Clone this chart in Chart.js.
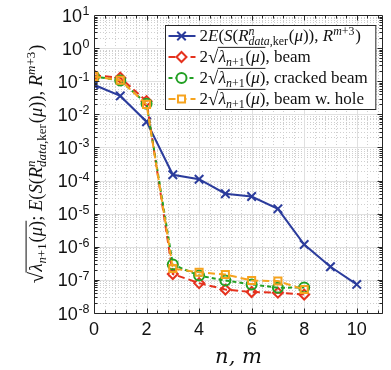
<!DOCTYPE html>
<html>
<head>
<meta charset="utf-8">
<script src="https://cdn.jsdelivr.net/npm/chart.js@4"></script>
<style>
  html, body { margin: 0; padding: 0; background: #fff; }
  #wrap { width: 391px; height: 370px; position: relative; }
</style>
</head>
<body>
<div id="wrap"><canvas id="grafico"></canvas></div>
<script>
// data
const nBlue = [0, 1, 2, 3, 4, 5, 6, 7, 8, 9, 10];
const errKer = [0.078, 0.036, 0.006, 1.5e-4, 1.1e-4, 4.0e-5, 3.3e-5, 1.4e-5, 1.17e-6, 2.5e-7, 7.3e-8];
const nEig = [0, 1, 2, 3, 4, 5, 6, 7, 8];
const eigBeam = [0.15, 0.128, 0.025, 1.5e-7, 8.0e-8, 5.1e-8, 4.3e-8, 4.1e-8, 3.6e-8];
const eigCracked = [0.14, 0.105, 0.021, 2.9e-7, 1.35e-7, 9.6e-8, 7.3e-8, 5.8e-8, 5.9e-8];
const eigHole = [0.14, 0.107, 0.020, 2.2e-7, 1.7e-7, 1.45e-7, 9.6e-8, 9.2e-8, 5.1e-8];
const yExpMin = -8, yExpMax = 1;
const xMax = 11;

const SERIF = '"Liberation Serif", "DejaVu Serif", serif';
const SANS = '"Liberation Sans", Arial, sans-serif';

// rich text pieces: I = italic, R = roman
const I = t => ({ t, it: true });
const R = t => ({ t });
const lam = [{ sqrt: [I('λ'), { sub: [I('n'), R('+1')] }, R('('), I('μ'), R(')')] }];
const errText = [I('E'), R('('), I('S'), R('('), I('R'), { sup: [I('n')], sub: [I('data'), R(','), R('ker')] },
  R('('), I('μ'), R(')), '), I('R'), { sup: [I('m'), R('+3')] }, R(')')];

const legendItems = [
  [R('2')].concat(errText),
  [R('2')].concat(lam, [R(', beam')]),
  [R('2')].concat(lam, [R(', cracked beam')]),
  [R('2')].concat(lam, [R(', beam w. hole')])
];
const yTitle = lam.concat([R('; ')], errText);

function richRun(ctx, segs, x, y, size, draw) {
  let cx = x;
  for (const s of segs) {
    if (s.sqrt) {
      ctx.font = (size * 1.1) + 'px ' + SERIF;
      const sw = ctx.measureText('√').width;
      if (draw) ctx.fillText('√', cx, y + size * 0.08);
      const st = cx + sw - 0.5;
      const w = richRun(ctx, s.sqrt, st + 1, y, size, draw);
      if (draw) {
        ctx.save();
        ctx.lineWidth = Math.max(0.8, size * 0.055);
        ctx.strokeStyle = ctx.fillStyle;
        ctx.beginPath();
        ctx.moveTo(st, y - size * 0.86);
        ctx.lineTo(st + 1 + w, y - size * 0.86);
        ctx.stroke();
        ctx.restore();
      }
      cx = st + 1 + w;
      continue;
    }
    if (s.sup || s.sub) {
      const sz = size * 0.7;
      let wa = 0, wb = 0;
      if (s.sup) wa = richRun(ctx, s.sup, cx, y - size * 0.38, sz, draw);
      if (s.sub) wb = richRun(ctx, s.sub, cx, y + size * 0.22, sz, draw);
      cx += Math.max(wa, wb) + size * 0.05;
      continue;
    }
    ctx.font = (s.it ? 'italic ' : '') + size + 'px ' + SERIF;
    if (draw) ctx.fillText(s.t, cx, y);
    cx += ctx.measureText(s.t).width;
  }
  return cx - x;
}

const series = [
  { label: 'blue', n: nBlue, v: errKer, color: '#2b3c9c', dash: [], style: 'crossRot', radius: 6, order: 3 },
  { label: 'beam', n: nEig, v: eigBeam, color: '#e5321e', dash: [7, 4], style: 'rectRot', radius: 5, order: 2 },
  { label: 'cracked', n: nEig, v: eigCracked, color: '#22a024', dash: [4, 3], style: 'circle', radius: 5, order: 1 },
  { label: 'hole', n: nEig, v: eigHole, color: '#f6a31e', dash: [7, 4], style: 'rect', radius: 5, order: 0 }
];

const gridPlugin = {
  id: 'gridPlugin',
  beforeDatasetsDraw(chart) {
    const { ctx, chartArea: a, scales: { x, y } } = chart;
    ctx.save();
    ctx.lineWidth = 1;
    // minor dotted grid
    ctx.strokeStyle = '#cfcfcf';
    ctx.setLineDash([1, 2]);
    ctx.beginPath();
    for (let i = 1; i * 0.4 < xMax; i++) {
      if (i % 5 === 0) continue;
      const px = Math.round(x.getPixelForValue(i * 0.4)) + 0.5;
      ctx.moveTo(px, a.top); ctx.lineTo(px, a.bottom);
    }
    for (let e = yExpMin; e < yExpMax; e++) {
      for (let m = 2; m <= 9; m++) {
        const py = Math.round(y.getPixelForValue(m * Math.pow(10, e))) + 0.5;
        ctx.moveTo(a.left, py); ctx.lineTo(a.right, py);
      }
    }
    ctx.stroke();
    // major solid grid
    ctx.setLineDash([]);
    ctx.strokeStyle = '#e0e0e0';
    ctx.beginPath();
    for (let v = 2; v < xMax; v += 2) {
      const px = Math.round(x.getPixelForValue(v)) + 0.5;
      ctx.moveTo(px, a.top); ctx.lineTo(px, a.bottom);
    }
    for (let e = yExpMin + 1; e < yExpMax; e++) {
      const py = Math.round(y.getPixelForValue(Math.pow(10, e))) + 0.5;
      ctx.moveTo(a.left, py); ctx.lineTo(a.right, py);
    }
    ctx.stroke();
    ctx.restore();
  },
  afterDraw(chart) {
    const { ctx, chartArea: a, scales: { x, y } } = chart;
    ctx.save();
    // axes box with inward ticks
    ctx.strokeStyle = '#262626';
    ctx.lineWidth = 1;
    ctx.beginPath();
    const L = Math.round(a.left) + 0.5, Rr = Math.round(a.right) - 0.5;
    const T = Math.round(a.top) + 0.5, B = Math.round(a.bottom) + 0.5;
    ctx.rect(L, T, Rr - L, B - T);
    for (let i = 1; i * 0.4 < xMax; i++) {
      const px = Math.round(x.getPixelForValue(i * 0.4)) + 0.5;
      const len = i % 5 === 0 ? 5 : 3;
      ctx.moveTo(px, B); ctx.lineTo(px, B - len);
      ctx.moveTo(px, T); ctx.lineTo(px, T + len);
    }
    for (let e = yExpMin; e < yExpMax; e++) {
      for (let m = 1; m <= 9; m++) {
        const py = Math.round(y.getPixelForValue(m * Math.pow(10, e))) + 0.5;
        const len = m === 1 ? 5 : 3;
        ctx.moveTo(L, py); ctx.lineTo(L + len, py);
        ctx.moveTo(Rr, py); ctx.lineTo(Rr - len, py);
      }
    }
    ctx.stroke();

    // y tick labels 10^e
    ctx.fillStyle = '#111';
    ctx.textBaseline = 'alphabetic';
    for (let e = yExpMin; e <= yExpMax; e++) {
      const py = y.getPixelForValue(Math.pow(10, e));
      const ex = String(e);
      ctx.font = '18px ' + SANS;
      const w10 = ctx.measureText('10').width;
      ctx.font = '12.5px ' + SANS;
      const we = ctx.measureText(ex).width;
      const x0 = a.left - 5 - w10 - we;
      ctx.font = '18px ' + SANS;
      ctx.fillText('10', x0, py + 6.5);
      ctx.font = '12.5px ' + SANS;
      ctx.fillText(ex, x0 + w10 + 0.5, py);
    }

    // y axis title, rotated
    ctx.save();
    ctx.fillStyle = '#111';
    const ts = 18.5;
    const tw = richRun(ctx, yTitle, 0, 0, ts, false);
    ctx.translate(42, (a.top + a.bottom) / 2);
    ctx.rotate(-Math.PI / 2);
    richRun(ctx, yTitle, -tw / 2, 0, ts, true);
    ctx.restore();

    // legend
    const fs = 17;
    let maxW = 0;
    legendItems.forEach(it => { maxW = Math.max(maxW, richRun(ctx, it, 0, 0, fs, false)); });
    const rowH = 21;
    const boxW = 34 + maxW + 8;
    const boxH = rowH * legendItems.length;
    const bx = Math.round(a.right - 8 - boxW) + 0.5, by = Math.round(a.top + 10) + 0.5;
    ctx.fillStyle = '#fff';
    ctx.fillRect(bx, by, boxW, boxH);
    ctx.strokeStyle = '#262626';
    ctx.lineWidth = 1;
    ctx.strokeRect(bx, by, boxW, boxH);
    series.forEach((s, i) => {
      const cy = by + rowH * (i + 0.5);
      ctx.save();
      ctx.strokeStyle = s.color;
      ctx.lineWidth = 2;
      ctx.setLineDash(s.dash);
      ctx.beginPath();
      ctx.moveTo(bx + 3, cy); ctx.lineTo(bx + 30, cy);
      ctx.stroke();
      ctx.setLineDash([]);
      ctx.fillStyle = '#fff';
      Chart.helpers.drawPoint(ctx, { pointStyle: s.style, radius: s.radius, borderWidth: 2, rotation: 0 }, bx + 16, cy);
      ctx.restore();
      ctx.fillStyle = '#111';
      richRun(ctx, legendItems[i], bx + 34, cy + 5, fs, true);
    });
    ctx.restore();
  }
};

const ctx = document.getElementById('grafico').getContext('2d');
new Chart(ctx, {
  type: 'line',
  data: {
    datasets: series.map(s => ({
      label: s.label,
      data: s.n.map((n, i) => ({ x: n, y: s.v[i] })),
      borderColor: s.color,
      backgroundColor: 'rgba(0,0,0,0)',
      borderWidth: 2,
      borderDash: s.dash,
      pointStyle: s.style,
      pointRadius: s.radius,
      pointBorderWidth: 2,
      pointBorderColor: s.color,
      pointBackgroundColor: 'rgba(0,0,0,0)',
      tension: 0,
      order: s.order
    }))
  },
  options: {
    responsive: true,
    maintainAspectRatio: false,
    animation: false,
    layout: { padding: { top: 15, right: 1, left: 0, bottom: 0 } },
    plugins: { legend: { display: false }, tooltip: { enabled: false } },
    scales: {
      x: {
        type: 'linear', min: 0, max: xMax,
        grid: { display: false, drawTicks: false },
        border: { display: false },
        ticks: { stepSize: 2, includeBounds: false, padding: 6, color: '#111', font: { family: SANS, size: 18 }, maxRotation: 0 },
        title: { display: true, text: 'n, m', color: '#111', font: { family: '"DejaVu Serif", serif', style: 'italic', size: 21 }, padding: { top: 0, bottom: 0 } },
        afterFit: s => { s.height = 57; }
      },
      y: {
        type: 'logarithmic', min: Math.pow(10, yExpMin), max: Math.pow(10, yExpMax),
        grid: { display: false, drawTicks: false },
        border: { display: false },
        ticks: { display: false },
        afterFit: s => { s.width = 94; }
      }
    }
  },
  plugins: [gridPlugin]
});
</script>
</body>
</html>
